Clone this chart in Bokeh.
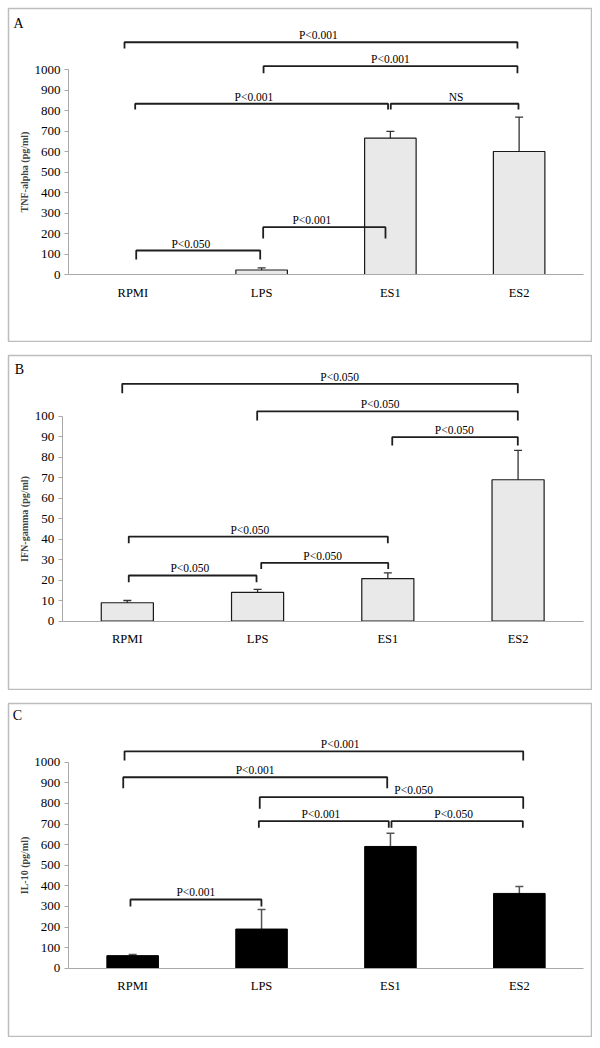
from bokeh.plotting import figure
from bokeh.models import Range1d, LinearAxis, FixedTicker, Whisker, TeeHead, ColumnDataSource, Label
from bokeh.layouts import column
from bokeh.embed import file_html
from bokeh.resources import INLINE
from bokeh.core.properties import value

# ---------------- data ----------------
categories = ["RPMI", "LPS", "ES1", "ES2"]

tnf_mean = [0, 22, 665, 600]
tnf_err = [0, 10, 33, 168]

ifn_mean = [9.0, 14.1, 20.8, 69.0]
ifn_err = [1.1, 1.4, 2.8, 14.3]

il10_mean = [61, 190, 591, 363]
il10_err = [5, 95, 64, 33]

tnf_ticks = list(range(0, 1001, 100))
ifn_ticks = list(range(0, 101, 10))
il10_ticks = list(range(0, 1001, 100))

# significance brackets: (x_left, x_right, y_line, y_leg_end, label, label_x)
tnf_brackets = [
    (-0.065, 2.987, 1133, 1102, "P<0.001", 1.44),
    (1.015, 2.987, 1016, 982, "P<0.001", 2.00),
    (0.018, 1.982, 833, 805, "P<0.001", 0.94),
    (2.003, 2.995, 833, 805, "NS", 2.51),
    (0.026, 0.989, 117, 73, "P<0.050", 0.45),
    (1.012, 1.962, 231, 176, "P<0.001", 1.39),
]
ifn_brackets = [
    (-0.039, 2.998, 115.8, 111.2, "P<0.050", 1.63),
    (0.997, 2.998, 102.4, 97.9, "P<0.050", 1.94),
    (2.034, 2.998, 89.8, 85.7, "P<0.050", 2.51),
    (0.011, 2.000, 41.3, 38.0, "P<0.050", 0.94),
    (0.011, 0.992, 22.3, 19.0, "P<0.050", 0.48),
    (1.028, 2.003, 28.5, 25.5, "P<0.050", 1.50),
]
il10_brackets = [
    (-0.063, 3.030, 1053, 1008, "P<0.001", 1.61),
    (-0.073, 1.975, 927, 873, "P<0.001", 0.95),
    (0.986, 3.030, 830, 774, "P<0.050", 2.18),
    (0.979, 1.987, 714, 682, "P<0.001", 1.46),
    (2.008, 3.027, 714, 682, "P<0.050", 2.49),
    (-0.017, 0.999, 333.5, 299.5, "P<0.001", 0.49),
]

FONT = "Liberation Serif"
W = 585
OX = 7  # page x of the figures' left edge
GAP = 12


def make_panel(letter, letter_px, top, H, axL, axR, zero, top_px, vmax, ticks,
               means, errs, ylabel, brackets, dark):
    n = len(categories)
    cw = (axR - axL) / n
    k = vmax / (zero - top_px)
    x_start = (OX + 1 - axL) / cw - 0.5
    x_end = (OX + W - 1 - axL) / cw - 0.5
    y_end = (zero - (top + 1)) * k
    y_start = (zero - (top + H - 1)) * k

    p = figure(width=W, height=H, x_range=Range1d(x_start, x_end),
               y_range=Range1d(y_start, y_end), x_axis_type=None, y_axis_type=None,
               toolbar_location=None, output_backend="svg", min_border=1,
               outline_line_color="#bdbdbd", outline_line_width=1.5,
               background_fill_color="white", border_fill_color="white")

    xs = list(range(n))
    keep = [i for i in range(n) if errs[i] > 0]
    esrc = ColumnDataSource(dict(x=[xs[i] for i in keep],
                                 upper=[means[i] + errs[i] for i in keep],
                                 lower=[means[i] - errs[i] for i in keep]))
    bsrc = ColumnDataSource(dict(x=[xs[i] for i in range(n) if means[i] > 0],
                                 top=[means[i] for i in range(n) if means[i] > 0]))

    if dark:
        wh = Whisker(source=esrc, base="x", upper="upper", lower="lower", dimension="height",
                     line_color="#555555", line_width=1.5, level="underlay",
                     upper_head=TeeHead(size=8, line_color="#555555", line_width=1.5),
                     lower_head=TeeHead(size=8, line_color="#555555", line_width=1.5))
        p.add_layout(wh)
        p.vbar(x="x", top="top", bottom=0, width=0.4, source=bsrc,
               fill_color="black", line_color="black", line_width=1)
    else:
        p.vbar(x="x", top="top", bottom=0, width=0.4, source=bsrc,
               fill_color="#e9e9e9", line_color="#1a1a1a", line_width=1.2)
        wh = Whisker(source=esrc, base="x", upper="upper", lower="lower", dimension="height",
                     line_color="#333333", line_width=1.3,
                     upper_head=TeeHead(size=8, line_color="#333333", line_width=1.3),
                     lower_head=TeeHead(size=8, line_color="#333333", line_width=1.3))
        p.add_layout(wh)

    # axes
    yax = LinearAxis(fixed_location=-0.5, bounds=(0, vmax), ticker=FixedTicker(ticks=ticks),
                     axis_label=ylabel, axis_label_text_font=FONT,
                     axis_label_text_font_style="bold", axis_label_text_font_size="10px",
                     axis_label_standoff=2, axis_line_color="#a8a8a8",
                     major_tick_line_color="#a8a8a8", major_tick_out=4, major_tick_in=0,
                     minor_tick_line_color=None, major_label_standoff=4,
                     major_label_text_font=FONT, major_label_text_font_size="13px",
                     major_label_text_color="black")
    p.add_layout(yax, "left")
    xax = LinearAxis(fixed_location=0, bounds=(-0.5, n - 0.5),
                     ticker=FixedTicker(ticks=xs),
                     major_label_overrides={i: c for i, c in enumerate(categories)},
                     axis_line_color="#a8a8a8", major_tick_line_color=None,
                     major_tick_out=0, major_tick_in=0, minor_tick_line_color=None,
                     major_label_standoff=11, major_label_text_font=FONT,
                     major_label_text_font_size="12.5px", major_label_text_color="black")
    p.add_layout(xax, "below")

    # brackets
    bx, by = [], []
    for x0, x1, y, yl, lab, lx in brackets:
        bx.append([x0, x0, x1, x1])
        by.append([yl, y, y, yl])
    p.multi_line(xs=bx, ys=by, line_color="#1e1e1e", line_width=1.8)
    p.text(x=[b[5] for b in brackets], y=[b[2] for b in brackets],
           text=[b[4] for b in brackets], text_align="center", text_baseline="bottom",
           y_offset=-1, text_font=value(FONT), text_font_size="11.5px", text_color="black")

    # panel letter
    lx = (letter_px[0] - axL) / cw - 0.5
    ly = (zero - letter_px[1]) * k
    p.add_layout(Label(x=lx, y=ly, text=letter, text_align="center", text_baseline="middle",
                       text_font=FONT, text_font_size="14px", text_color="black"))
    return p


topA = 7
pA = make_panel("A", (18, 23), topA, 335, 68, 583, 274, 69, 1000, tnf_ticks,
                tnf_mean, tnf_err, "TNF-alpha (pg/ml)", tnf_brackets, False)
topB = topA + 335 + GAP
pB = make_panel("B", (19, 369), topB, 336, 61.7, 582.7, 620.7, 415.7, 100, ifn_ticks,
                ifn_mean, ifn_err, "IFN-gamma (pg/ml)", ifn_brackets, False)
topC = topB + 336 + GAP
pC = make_panel("C", (17, 715), topC, 335, 67.7, 583.3, 967.7, 761.7, 1000, il10_ticks,
                il10_mean, il10_err, "IL-10 (pg/ml)", il10_brackets, True)

layout = column(pA, pB, pC, spacing=GAP, margin=(topA, 0, 0, OX))
open("out.html", "w").write(file_html(layout, INLINE))
